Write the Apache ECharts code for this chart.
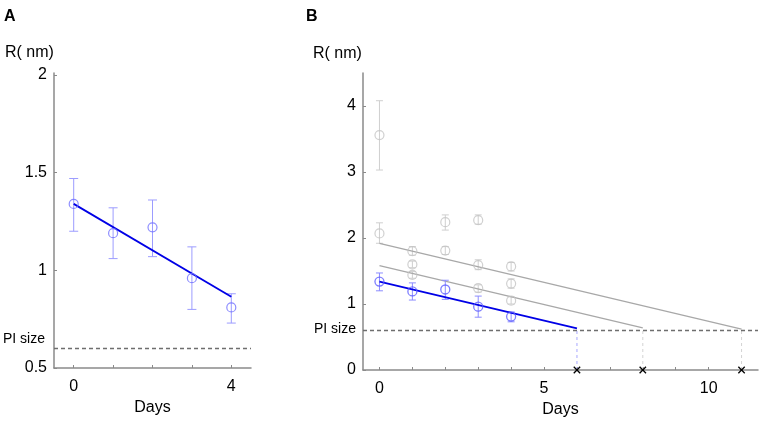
<!DOCTYPE html>
<html><head><meta charset="utf-8">
<script src="https://cdn.jsdelivr.net/npm/echarts@6/dist/echarts.min.js"></script>
<style>html,body{margin:0;padding:0;background:#fff}#c{width:765px;height:424px}</style>
</head><body><div id="c"></div><script>
// ---- data ----
const blueDays = [0, 1, 2, 3, 4];
const blueMean = [1.34, 1.19, 1.22, 0.96, 0.81];
const blueLow  = [1.20, 1.06, 1.07, 0.80, 0.73];
const blueHigh = [1.47, 1.32, 1.36, 1.12, 0.88];
const grayDays = [0, 0, 1, 1, 1, 2, 2, 3, 3, 3, 4, 4, 4];
const grayMean = [3.56, 2.07, 1.80, 1.60, 1.44, 2.24, 1.81, 2.27, 1.59, 1.24, 1.57, 1.31, 1.05];
const grayLow  = [3.03, 1.92, 1.74, 1.55, 1.39, 2.12, 1.75, 2.21, 1.52, 1.18, 1.50, 1.24, 1.00];
const grayHigh = [4.08, 2.23, 1.87, 1.65, 1.49, 2.35, 1.87, 2.35, 1.67, 1.29, 1.63, 1.38, 1.11];
const fitBlueA = [[0, 1.34], [4, 0.865]];
const fitBlueB = [[0, 1.34], [6, 0.63]];
const fitGrayUpper = [[0, 1.92], [11, 0.62]];
const fitGrayMiddle = [[0, 1.58], [8, 0.64]];
const piSize = 0.6;
const crossDays = [6, 8, 11];
const xTicksA = [0, 1, 2, 3, 4];
const xLabelsA = [0, 4];
const yTicksA = [0.5, 1, 1.5, 2];
const xTicksB = [0, 1, 2, 3, 4, 5, 6, 7, 8, 9, 10, 11];
const xLabelsB = [0, 5, 10];
const yTicksB = [0, 1, 2, 3, 4];

// ---- helpers ----
const FONT = 'Liberation Sans, Arial, sans-serif';
const AX = '#8a8a8a';
function errRender(capHalf, color) {
  return function (params, api) {
    const x = api.value(0), lo = api.value(1), hi = api.value(2);
    const a = api.coord([x, lo]), b = api.coord([x, hi]);
    const st = { stroke: color, lineWidth: 1 };
    return { type: 'group', children: [
      { type: 'line', shape: { x1: a[0], y1: a[1], x2: b[0], y2: b[1] }, style: st },
      { type: 'line', shape: { x1: a[0] - capHalf, y1: a[1], x2: a[0] + capHalf, y2: a[1] }, style: st },
      { type: 'line', shape: { x1: b[0] - capHalf, y1: b[1], x2: b[0] + capHalf, y2: b[1] }, style: st }
    ] };
  };
}
function xAxisCfg(idx, min, max, ticks, labels) {
  return {
    type: 'value', gridIndex: idx, min: min, max: max,
    name: 'Days', nameLocation: 'middle', nameGap: 30,
    nameTextStyle: { fontFamily: FONT, fontSize: 16, color: '#000' },
    axisLine: { onZero: false, lineStyle: { color: AX, width: 1.5 } },
    axisTick: { inside: true, length: 3, customValues: ticks, lineStyle: { color: AX } },
    axisLabel: { customValues: labels, margin: 11, fontFamily: FONT, fontSize: 16, color: '#000' },
    splitLine: { show: false }
  };
}
function yAxisCfg(idx, min, max, ticks) {
  return {
    type: 'value', gridIndex: idx, min: min, max: max,
    axisLine: { show: true, onZero: false, lineStyle: { color: AX, width: 1.5 } },
    axisTick: { show: true, inside: true, length: 3, customValues: ticks, lineStyle: { color: AX } },
    axisLabel: { customValues: ticks, margin: 7, fontFamily: FONT, fontSize: 16, color: '#000' },
    splitLine: { show: false }
  };
}
const blueErr = blueDays.map((d, i) => [d, blueLow[i], blueHigh[i]]);
const bluePts = blueDays.map((d, i) => [d, blueMean[i]]);
const grayErr = grayDays.map((d, i) => [d, grayLow[i], grayHigh[i]]);
const grayPts = grayDays.map((d, i) => [d, grayMean[i]]);
const vertColors = ['#a8a8ff', '#d4d4d4', '#d4d4d4'];

const chart = echarts.init(document.getElementById('c'), null, { renderer: 'canvas' });
chart.setOption({
  animation: false,
  backgroundColor: '#fff',
  grid: [
    { left: 54, right: 514, top: 73, bottom: 56 },
    { left: 363, right: 7, top: 73, bottom: 54 }
  ],
  xAxis: [xAxisCfg(0, -0.5, 4.5, xTicksA, xLabelsA), xAxisCfg(1, -0.5, 11.5, xTicksB, xLabelsB)],
  yAxis: [yAxisCfg(0, 0.5, 2.01, yTicksA), yAxisCfg(1, 0, 4.5, yTicksB)],
  graphic: [
    { type: 'text', left: 4, top: 9, style: { text: 'A', font: 'bold 16px ' + FONT, fill: '#000' } },
    { type: 'text', left: 5, top: 45, style: { text: 'R( nm)', font: '16px ' + FONT, fill: '#000' } },
    { type: 'text', left: 306, top: 9, style: { text: 'B', font: 'bold 16px ' + FONT, fill: '#000' } },
    { type: 'text', left: 313, top: 46, style: { text: 'R( nm)', font: '16px ' + FONT, fill: '#000' } }
  ],
  series: [
    // ---- panel A ----
    { type: 'line', xAxisIndex: 0, yAxisIndex: 0, data: [], silent: true,
      markLine: { symbol: 'none', silent: true,
        lineStyle: { type: [4, 3], color: '#6e6e6e', width: 1.4 },
        label: { show: true, position: 'start', formatter: 'PI size', offset: [0, -9], distance: 9,
          fontFamily: FONT, fontSize: 14, color: '#000' },
        data: [{ yAxis: piSize }] } },
    { type: 'custom', xAxisIndex: 0, yAxisIndex: 0, renderItem: errRender(4.5, '#9c9cff'),
      encode: { x: 0, y: [1, 2] }, data: blueErr, z: 2 },
    { type: 'line', xAxisIndex: 0, yAxisIndex: 0, data: fitBlueA, symbol: 'none',
      lineStyle: { color: '#0000e6', width: 1.8 }, z: 3 },
    { type: 'scatter', xAxisIndex: 0, yAxisIndex: 0, data: bluePts, symbol: 'circle', symbolSize: 9,
      itemStyle: { color: 'rgba(0,0,0,0)', borderColor: '#7070ff', borderWidth: 1.2 }, z: 4 },
    // ---- panel B ----
    { type: 'line', xAxisIndex: 1, yAxisIndex: 1, data: [], silent: true,
      markLine: { symbol: 'none', silent: true,
        lineStyle: { type: [4, 3], color: '#6e6e6e', width: 1.4 },
        label: { show: true, position: 'start', formatter: 'PI size', offset: [0, -1], distance: 7,
          fontFamily: FONT, fontSize: 14, color: '#000' },
        data: [{ yAxis: piSize }] } },
    { type: 'custom', xAxisIndex: 1, yAxisIndex: 1,
      renderItem: function (params, api) {
        const x = api.value(0);
        const a = api.coord([x, 0]), b = api.coord([x, api.value(1)]);
        return { type: 'line', shape: { x1: a[0], y1: a[1], x2: b[0], y2: b[1] },
          style: { stroke: vertColors[params.dataIndex], lineWidth: 1, lineDash: [3, 3] } };
      },
      encode: { x: 0, y: 1 }, data: crossDays.map(d => [d, piSize]), z: 1 },
    { type: 'custom', xAxisIndex: 1, yAxisIndex: 1, renderItem: errRender(3.5, '#cfcfcf'),
      encode: { x: 0, y: [1, 2] }, data: grayErr, z: 2 },
    { type: 'scatter', xAxisIndex: 1, yAxisIndex: 1, data: grayPts, symbol: 'circle', symbolSize: 9,
      itemStyle: { color: 'rgba(0,0,0,0)', borderColor: '#c4c4c4', borderWidth: 1.2 }, z: 3 },
    { type: 'line', xAxisIndex: 1, yAxisIndex: 1, data: fitGrayUpper, symbol: 'none',
      lineStyle: { color: '#a8a8a8', width: 1.3 }, z: 3 },
    { type: 'line', xAxisIndex: 1, yAxisIndex: 1, data: fitGrayMiddle, symbol: 'none',
      lineStyle: { color: '#a8a8a8', width: 1.3 }, z: 3 },
    { type: 'custom', xAxisIndex: 1, yAxisIndex: 1, renderItem: errRender(3.5, '#8c8cff'),
      encode: { x: 0, y: [1, 2] }, data: blueErr, z: 4 },
    { type: 'line', xAxisIndex: 1, yAxisIndex: 1, data: fitBlueB, symbol: 'none',
      lineStyle: { color: '#0000e6', width: 1.8 }, z: 5 },
    { type: 'scatter', xAxisIndex: 1, yAxisIndex: 1, data: bluePts, symbol: 'circle', symbolSize: 9,
      itemStyle: { color: 'rgba(0,0,0,0)', borderColor: '#5c5cff', borderWidth: 1.3 }, z: 6 },
    { type: 'custom', xAxisIndex: 1, yAxisIndex: 1,
      renderItem: function (params, api) {
        const p = api.coord([api.value(0), api.value(1)]);
        const s = 3.2;
        const st = { stroke: '#000', lineWidth: 1.3 };
        return { type: 'group', children: [
          { type: 'line', shape: { x1: p[0] - s, y1: p[1] - s, x2: p[0] + s, y2: p[1] + s }, style: st },
          { type: 'line', shape: { x1: p[0] - s, y1: p[1] + s, x2: p[0] + s, y2: p[1] - s }, style: st }
        ] };
      },
      encode: { x: 0, y: 1 }, data: crossDays.map(d => [d, 0]), z: 10 }
  ]
});
</script></body></html>
